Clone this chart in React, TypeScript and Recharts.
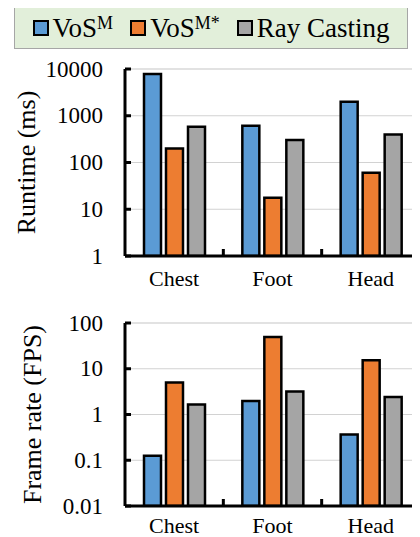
import { BarChart, Bar, XAxis, YAxis, CartesianGrid } from "recharts";

const categories = ["Chest", "Foot", "Head"];

// Runtime in ms (log scale)
const runtimeVoS = [7800, 610, 2000];
const runtimeVoSStar = [200, 17.7, 60];
const runtimeRay = [580, 303, 395];

// Frame rate in FPS (log scale)
const fpsVoS = [0.125, 1.98, 0.366];
const fpsVoSStar = [5.0, 49.5, 15.3];
const fpsRay = [1.65, 3.18, 2.42];

const runtimeTicks = [1, 10, 100, 1000, 10000];
const fpsTicks = [0.01, 0.1, 1, 10, 100];

const FONT = "'Liberation Serif', 'Times New Roman', serif";
const BLUE = "#5B9BD5";
const ORANGE = "#ED7D31";
const GRAY = "#A5A5A5";

const CHART_W = 420;
const AXIS_W = 125;
const BAND = (CHART_W - AXIS_W) / categories.length;

// minor gridlines 2..9 inside each decade
const minorTicks = (decades: number[]) =>
  decades.slice(0, -1).flatMap((d) => [2, 3, 4, 5, 6, 7, 8, 9].map((m) => +(d * m).toPrecision(3)));

const runtimeData = categories.map((name, i) => ({
  name,
  vos: runtimeVoS[i],
  vosStar: runtimeVoSStar[i],
  ray: runtimeRay[i],
}));

const fpsData = categories.map((name, i) => ({
  name,
  vos: fpsVoS[i],
  vosStar: fpsVoSStar[i],
  ray: fpsRay[i],
}));

// category label plus a short tick on the right edge of each band
const CategoryTick = (props: any) => {
  const { x, y, payload, labelOffset } = props;
  const edge = x + BAND / 2;
  return (
    <g>
      <line x1={edge} x2={edge} y1={y} y2={y - 7} stroke="#000" strokeWidth={3} />
      <text
        x={x}
        y={y + labelOffset}
        textAnchor="middle"
        dominantBaseline="central"
        fontSize={22}
        fontFamily={FONT}
        fill="#000"
      >
        {payload.value}
      </text>
    </g>
  );
};

const ValueTick = (props: any) => {
  const { x, y, payload } = props;
  return (
    <g>
      <line x1={x} x2={x + 6} y1={y} y2={y} stroke="#000" strokeWidth={3} />
      <text x={x - 22} y={y} textAnchor="end" dominantBaseline="central" fontSize={23} fontFamily={FONT} fill="#000">
        {payload.value}
      </text>
    </g>
  );
};

const axisTitle = (text: string, cx: number) => (props: any) => {
  const { viewBox } = props;
  const cy = viewBox.y + viewBox.height / 2;
  return (
    <text
      x={cx}
      y={cy}
      transform={`rotate(-90 ${cx} ${cy})`}
      textAnchor="middle"
      dominantBaseline="central"
      fontSize={26}
      fontFamily={FONT}
      fill="#000"
    >
      {text}
    </text>
  );
};

function LogBars({
  data,
  ticks,
  title,
  titleX,
  height,
  marginTop,
  xAxisHeight,
  labelOffset,
}: {
  data: typeof runtimeData;
  ticks: number[];
  title: string;
  titleX: number;
  height: number;
  marginTop: number;
  xAxisHeight: number;
  labelOffset: number;
}) {
  const domain = [ticks[0], ticks[ticks.length - 1]];
  return (
    <BarChart
      width={CHART_W}
      height={height}
      data={data}
      margin={{ top: marginTop, right: 0, bottom: 0, left: 0 }}
      barSize={17}
      barGap={5}
    >
      <CartesianGrid yAxisId="minor" vertical={false} stroke="#e6e6e6" strokeWidth={1} />
      <CartesianGrid yAxisId="main" vertical={false} stroke="#d2d2d2" strokeWidth={1.2} />
      <XAxis
        dataKey="name"
        height={xAxisHeight}
        tickSize={0}
        tickMargin={0}
        tickLine={false}
        axisLine={{ stroke: "#000", strokeWidth: 3 }}
        tick={<CategoryTick labelOffset={labelOffset} />}
        interval={0}
      />
      <YAxis
        yAxisId="main"
        width={AXIS_W}
        scale="log"
        type="number"
        domain={domain}
        ticks={ticks}
        interval={0}
        allowDataOverflow
        tickSize={0}
        tickMargin={0}
        tickLine={false}
        axisLine={{ stroke: "#000", strokeWidth: 3 }}
        tick={<ValueTick />}
        label={{ content: axisTitle(title, titleX) }}
      />
      <YAxis
        yAxisId="minor"
        width={0}
        scale="log"
        type="number"
        domain={domain}
        ticks={minorTicks(ticks)}
        interval={0}
        allowDataOverflow
        tick={false}
        tickLine={false}
        axisLine={false}
      />
      <Bar yAxisId="main" dataKey="vos" fill={BLUE} stroke="#000" strokeWidth={2.5} isAnimationActive={false} />
      <Bar yAxisId="main" dataKey="vosStar" fill={ORANGE} stroke="#000" strokeWidth={2.5} isAnimationActive={false} />
      <Bar yAxisId="main" dataKey="ray" fill={GRAY} stroke="#000" strokeWidth={2.5} isAnimationActive={false} />
    </BarChart>
  );
}

const LegendItem = ({ color, children }: { color: string; children: React.ReactNode }) => (
  <div style={{ display: "flex", alignItems: "center" }}>
    <span
      style={{
        display: "inline-block",
        width: 12,
        height: 12,
        background: color,
        border: "2.5px solid #000",
        marginRight: 4,
      }}
    />
    <span style={{ whiteSpace: "nowrap" }}>{children}</span>
  </div>
);

const Sup = ({ children }: { children: React.ReactNode }) => (
  <span style={{ fontSize: 18, position: "relative", top: -8, lineHeight: 0 }}>{children}</span>
);

export default function App() {
  return (
    <div
      style={{
        position: "relative",
        margin: "-8px 0 0 -8px",
        width: 420,
        height: 537,
        overflow: "hidden",
        background: "#fff",
        fontFamily: FONT,
      }}
    >
      <div
        style={{
          position: "absolute",
          left: 14,
          top: 7,
          width: 392,
          height: 40,
          background: "#E2EFDA",
          border: "1px solid #A6A6A6",
          display: "flex",
          alignItems: "center",
          justifyContent: "center",
          gap: 17,
          fontSize: 27,
          color: "#000",
          lineHeight: "30px",
        }}
      >
        <LegendItem color={BLUE}>
          VoS<Sup>M</Sup>
        </LegendItem>
        <LegendItem color={ORANGE}>
          VoS<Sup>M*</Sup>
        </LegendItem>
        <LegendItem color={GRAY}>Ray Casting</LegendItem>
      </div>
      <div style={{ position: "absolute", left: 0, top: 50 }}>
        <LogBars
          data={runtimeData}
          ticks={runtimeTicks}
          title="Runtime (ms)"
          titleX={26}
          height={250}
          marginTop={19}
          xAxisHeight={44}
          labelOffset={22}
        />
      </div>
      <div style={{ position: "absolute", left: 0, top: 300 }}>
        <LogBars
          data={fpsData}
          ticks={fpsTicks}
          title="Frame rate (FPS)"
          titleX={32}
          height={237}
          marginTop={23}
          xAxisHeight={31}
          labelOffset={19}
        />
      </div>
    </div>
  );
}
